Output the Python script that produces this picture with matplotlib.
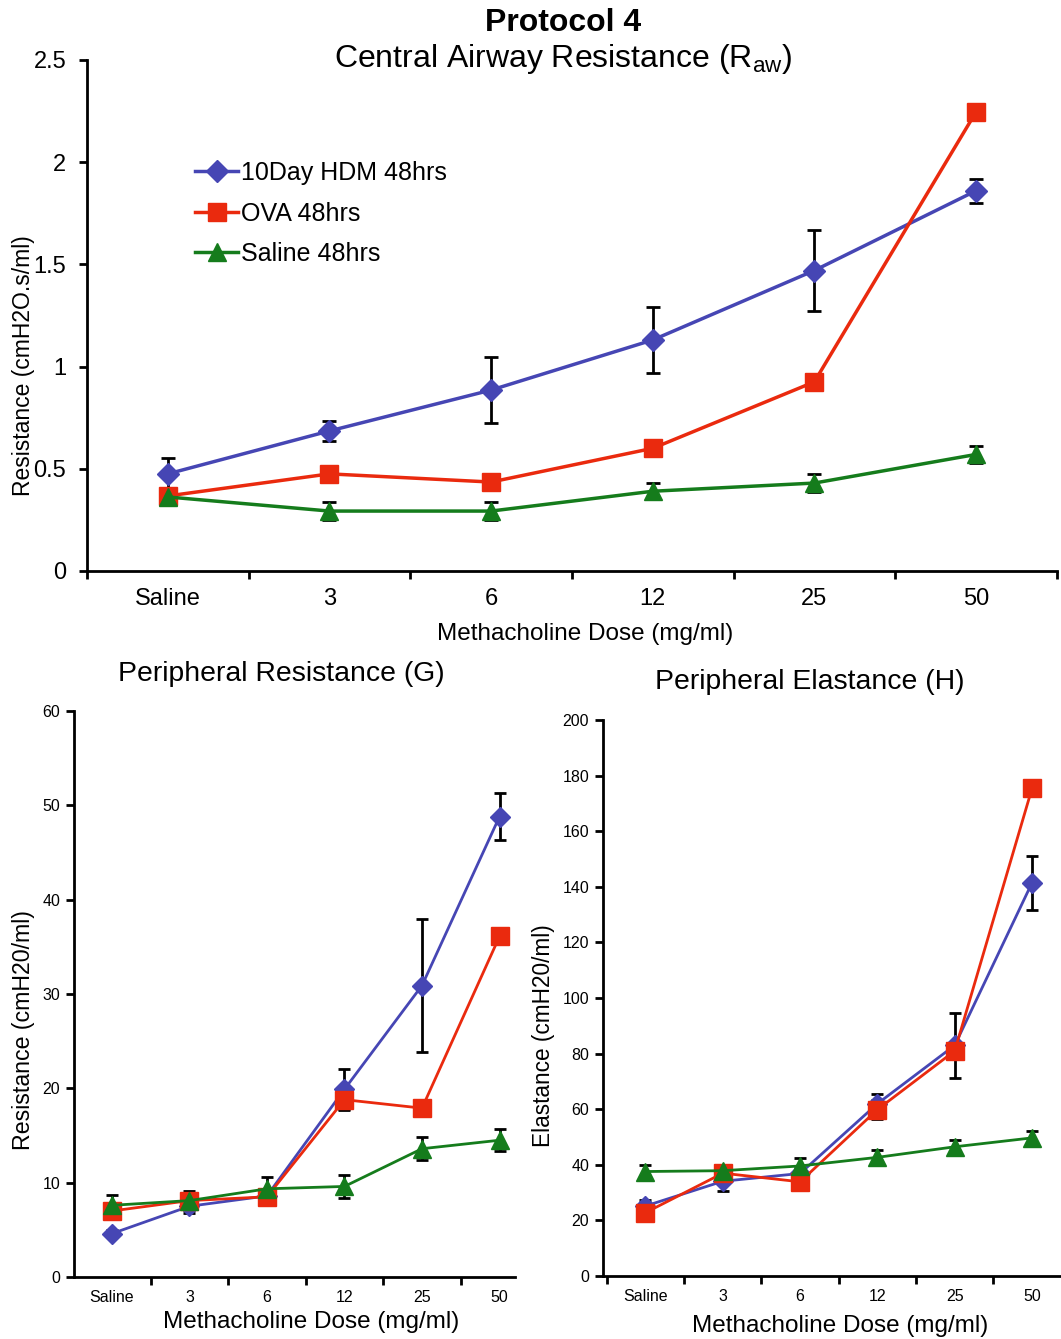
import matplotlib
matplotlib.use("Agg")
import matplotlib.pyplot as plt
import numpy as np

plt.rcParams['font.family'] = ['Liberation Sans', 'DejaVu Sans']

categories = ["Saline", "3", "6", "12", "25", "50"]
series_names = ["10Day HDM 48hrs", "OVA 48hrs", "Saline 48hrs"]

# Central airway resistance (Raw)
raw_hdm = [0.475, 0.685, 0.885, 1.13, 1.47, 1.86]
raw_hdm_err = [0.08, 0.05, 0.16, 0.16, 0.20, 0.06]
raw_ova = [0.367, 0.475, 0.435, 0.60, 0.925, 2.245]
raw_ova_err = [0.03, 0.02, 0.02, 0.02, 0.02, 0.02]
raw_sal = [0.362, 0.293, 0.293, 0.39, 0.43, 0.57]
raw_sal_err = [0.03, 0.045, 0.045, 0.04, 0.045, 0.04]

# Peripheral resistance (G)
g_hdm = [4.6, 7.5, 8.6, 19.9, 30.9, 48.8]
g_hdm_err = [0.4, 0.7, 0.6, 2.2, 7.0, 2.5]
g_ova = [7.0, 8.1, 8.5, 18.8, 17.9, 36.1]
g_ova_err = [0.5, 0.5, 0.4, 1.0, 0.4, 0.4]
g_sal = [7.6, 8.1, 9.35, 9.6, 13.6, 14.5]
g_sal_err = [1.1, 1.0, 1.2, 1.2, 1.2, 1.15]

# Peripheral elastance (H)
h_hdm = [25.2, 34.1, 36.9, 62.0, 83.0, 141.5]
h_hdm_err = [2.3, 3.4, 2.0, 3.6, 11.7, 9.7]
h_ova = [22.8, 37.0, 33.9, 59.9, 81.0, 175.5]
h_ova_err = [1.0, 2.3, 1.5, 3.5, 1.5, 1.0]
h_sal = [37.6, 37.9, 39.6, 42.7, 46.5, 49.7]
h_sal_err = [2.3, 1.5, 3.0, 2.5, 2.5, 2.5]

BLUE = "#4646B4"
RED = "#EA2A0E"
GREEN = "#157C1C"
colors = [BLUE, RED, GREEN]
markers = ["D", "s", "^"]

fig = plt.figure(figsize=(10.61, 13.39), dpi=100)


def draw(ax, data, errs, ms, lw, xlim, ylim, yticks, tick_fs, cap, xpad, ypad):
    x = np.arange(len(categories))
    handles = []
    for i, (vals, err) in enumerate(zip(data, errs)):
        ax.errorbar(x, vals, yerr=err, fmt='none', ecolor='black', elinewidth=2,
                    capsize=cap, capthick=2, zorder=2)
        msz = ms * (0.85 if markers[i] == "D" else 1.0)
        h, = ax.plot(x, vals, color=colors[i], lw=lw, marker=markers[i],
                     markersize=msz, markeredgecolor=colors[i], zorder=3 + 0.1 * i,
                     label=series_names[i])
        handles.append(h)
    ax.set_yticks(yticks)
    ax.set_xticks(x)
    ax.set_xticklabels(categories)
    ax.set_xticks(np.arange(-0.5, len(categories), 1.0), minor=True)
    ax.set_xlim(*xlim)
    ax.set_ylim(*ylim)
    ax.tick_params(axis='x', which='major', length=0, labelsize=tick_fs, pad=xpad)
    ax.tick_params(axis='x', which='minor', length=6, width=2, direction='out')
    ax.tick_params(axis='y', length=6, width=2, direction='out', labelsize=tick_fs, pad=ypad)
    for s in ['top', 'right']:
        ax.spines[s].set_visible(False)
    for s in ['left', 'bottom']:
        ax.spines[s].set_linewidth(2)
    return handles


# Top panel
ax1 = fig.add_axes([0.082, 0.5736, 0.914, 0.3816])
h = draw(ax1, [raw_hdm, raw_ova, raw_sal], [raw_hdm_err, raw_ova_err, raw_sal_err],
         ms=13, lw=2.5, xlim=(-0.5, 5.5), ylim=(0, 2.5),
         yticks=[0, 0.5, 1, 1.5, 2, 2.5], tick_fs=17, cap=5, xpad=12, ypad=9)
ax1.set_yticklabels(["0", "0.5", "1", "1.5", "2", "2.5"])
ax1.set_xlabel("Methacholine Dose (mg/ml)", fontsize=17.5)
ax1.xaxis.set_label_coords(0.514, -0.102)
ax1.set_ylabel("Resistance (cmH2O.s/ml)", fontsize=16.5)
ax1.yaxis.set_label_coords(-0.054, 0.401)
ax1.legend(handles=h, loc='upper left', bbox_to_anchor=(0.111, 0.802), frameon=False,
           fontsize=18, handlelength=1.75, handletextpad=0.1, labelspacing=0.66,
           borderaxespad=0, borderpad=0)
fig.text(0.531, 0.9765, "Protocol 4", ha='center', va='baseline', fontsize=23, fontweight='bold')
fig.text(0.531, 0.9503, "Central Airway Resistance (R$_{\\mathregular{aw}}$)", ha='center',
         va='baseline', fontsize=23)

# Bottom-left panel
ax2 = fig.add_axes([0.0697, 0.0463, 0.4157, 0.4227])
draw(ax2, [g_hdm, g_ova, g_sal], [g_hdm_err, g_ova_err, g_sal_err],
     ms=12.5, lw=2, xlim=(-0.49, 5.2), ylim=(0, 60),
     yticks=[0, 10, 20, 30, 40, 50, 60], tick_fs=11.5, cap=4, xpad=9, ypad=4)
ax2.set_xlabel("Methacholine Dose (mg/ml)", fontsize=17.5)
ax2.xaxis.set_label_coords(0.537, -0.060)
ax2.set_ylabel("Resistance (cmH20/ml)", fontsize=16.7)
ax2.yaxis.set_label_coords(-0.088, 0.436)
fig.text(0.265, 0.497, "Peripheral Resistance (G)", ha='center', va='center', fontsize=20.4)

# Bottom-right panel
ax3 = fig.add_axes([0.5683, 0.047, 0.4307, 0.4153])
draw(ax3, [h_hdm, h_ova, h_sal], [h_hdm_err, h_ova_err, h_sal_err],
     ms=12.5, lw=2, xlim=(-0.55, 5.36), ylim=(0, 200),
     yticks=list(range(0, 201, 20)), tick_fs=11.5, cap=4, xpad=9, ypad=4)
ax3.set_xlabel("Methacholine Dose (mg/ml)", fontsize=17.5)
ax3.xaxis.set_label_coords(0.519, -0.070)
ax3.set_ylabel("Elastance (cmH20/ml)", fontsize=16.3)
ax3.yaxis.set_label_coords(-0.105, 0.432)
fig.text(0.763, 0.491, "Peripheral Elastance (H)", ha='center', va='center', fontsize=20.4)

fig.savefig("out.png", dpi=100)
